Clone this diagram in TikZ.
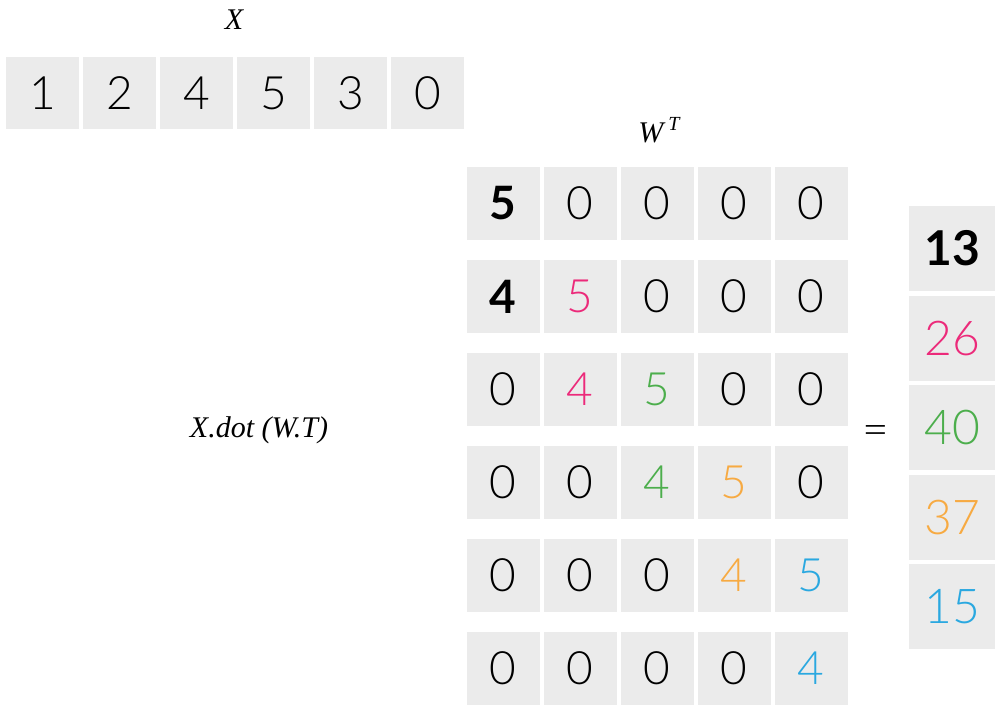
\documentclass[tikz,border=0pt]{standalone}
\usepackage{fontspec}
\setmainfont{Liberation Serif}
\newfontfamily\numfont{Lato Light}[BoldFont={Lato Bold}]
\definecolor{cellgray}{HTML}{EBEBEB}
\definecolor{cpink}{HTML}{EC2A7A}
\definecolor{cgreen}{HTML}{4CAE4C}
\definecolor{corange}{HTML}{F7AA42}
\definecolor{cblue}{HTML}{2AA8E0}
\tikzset{
  cell/.style={fill=cellgray, draw=none, minimum width=73pt, minimum height=73pt, inner sep=0pt, font=\numfont\fontsize{46}{46}\selectfont},
  xcell/.style={cell, minimum height=72pt},
  rcell/.style={cell, minimum width=86pt, minimum height=85pt, font=\numfont\fontsize{48}{48}\selectfont},
  lbl/.style={inner sep=0pt, font=\itshape\fontsize{30}{30}\selectfont}
}
\begin{document}
\begin{tikzpicture}[x=1pt,y=-1pt]
\useasboundingbox (0,0) rectangle (1000,710);
% X vector
\node[lbl] (xlabel) at (234,20) {X};
\foreach \v [count=\i from 0] in {1,2,4,5,3,0}
  \node[xcell] (x\i) at (42.5+77*\i,93) {\v};
% W^T label
\node[lbl] (wlabel) at (659,130) {W\,\raisebox{0.42em}{\fontsize{20}{20}\selectfont T}};
% W^T matrix
\foreach \row [count=\r from 0] in {
  {{\textbf{5}},0,0,0,0},
  {{\textbf{4}},{\color{cpink}5},0,0,0},
  {0,{\color{cpink}4},{\color{cgreen}5},0,0},
  {0,0,{\color{cgreen}4},{\color{corange}5},0},
  {0,0,0,{\color{corange}4},{\color{cblue}5}},
  {0,0,0,0,{\color{cblue}4}}}
  \foreach \v [count=\c from 0] in \row
    \node[cell] (w\r\c) at (503+77*\c,203.5+93*\r) {\v};
% label
\node[lbl] (dot) at (259,430) {X.dot (W.T)};
% equals
\node[inner sep=0pt, font=\numfont\fontsize{46}{46}\selectfont] (eq) at (876,435) {=};
% result
\foreach \v/\col [count=\i from 0] in {{\textbf{13}}/black,26/cpink,40/cgreen,37/corange,15/cblue}
  \node[rcell, text=\col] (r\i) at (952,248.5+89.6*\i) {\v};
\end{tikzpicture}
\end{document}
